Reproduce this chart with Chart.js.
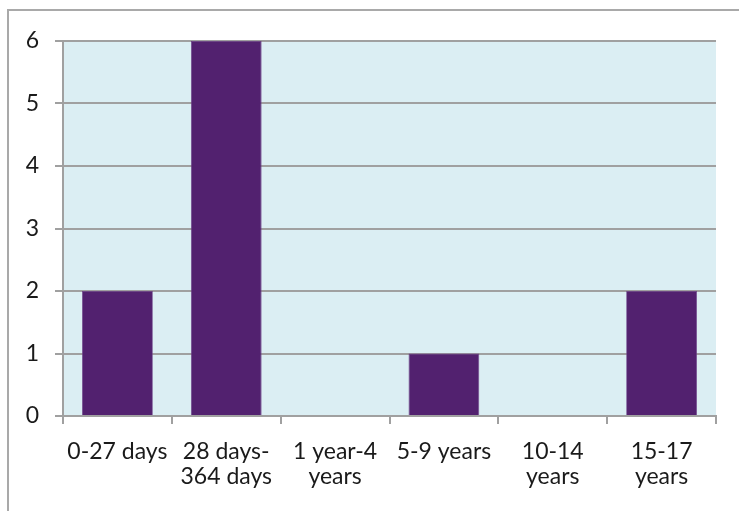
<!DOCTYPE html>
<html>
<head>
<meta charset="utf-8">
<script src="https://cdn.jsdelivr.net/npm/chart.js@4/dist/chart.umd.min.js"></script>
<style>
  html, body { margin: 0; padding: 0; background: #ffffff; }
  #wrap { position: relative; width: 739px; height: 511px; overflow: hidden; }
  #frame { position: absolute; left: 7px; top: 9px; width: 760px; height: 540px;
           border-top: 2px solid #a9a9a9; border-left: 2px solid #a9a9a9; box-sizing: border-box; }
  #c { position: absolute; left: 0; top: 0; }
</style>
</head>
<body>
<div id="wrap">
  <div id="frame"></div>
  <canvas id="c" width="739" height="511"></canvas>
</div>
<script>
// Age groups and number of cases in each group
const categories = ["0-27 days", "28 days-364 days", "1 year-4 years", "5-9 years", "10-14 years", "15-17 years"];
const tickLabels = [["0-27 days"], ["28 days-", "364 days"], ["1 year-4", "years"], ["5-9 years"], ["10-14", "years"], ["15-17", "years"]];
const counts = [2, 6, 0, 1, 0, 2];
const yTicks = [0, 1, 2, 3, 4, 5, 6];

const FONT = "Lato, 'Open Sans', sans-serif";
const TEXT = "#1a1a1a";
const GRID = "#a0a0a0";

// Fill the plotting area with a pale blue panel
const plotBackground = {
  id: "plotBackground",
  beforeDraw(chart) {
    const { ctx, chartArea: a } = chart;
    ctx.save();
    ctx.fillStyle = "#dbeef3";
    ctx.fillRect(a.left, a.top, a.right - a.left, a.bottom - a.top);
    ctx.restore();
  }
};

new Chart(document.getElementById("c"), {
  type: "bar",
  data: {
    labels: categories,
    datasets: [{
      data: counts,
      backgroundColor: "#52216f",
      borderColor: "#6a3c86",
      borderWidth: 0.8,
      barPercentage: 0.65,
      categoryPercentage: 1.0
    }]
  },
  options: {
    responsive: false,
    animation: false,
    devicePixelRatio: 1,
    layout: { padding: { left: 0, top: 41, right: 23, bottom: 0 } },
    plugins: { legend: { display: false }, tooltip: { enabled: false } },
    scales: {
      x: {
        offset: true,
        grid: { display: true, drawOnChartArea: false, drawTicks: true, offset: true,
                tickLength: 8, color: GRID, lineWidth: 2 },
        border: { display: true, color: GRID, width: 2 },
        ticks: {
          color: TEXT, font: { family: FONT, size: 23, lineHeight: 1.09 }, padding: 15,
          maxRotation: 0, autoSkip: false,
          callback: (v, i) => tickLabels[i]
        },
        afterFit(scale) { scale.height = 95; }
      },
      y: {
        min: 0, max: 6,
        grid: { color: GRID, lineWidth: 2, tickLength: 8 },
        border: { display: true, color: GRID, width: 2 },
        afterBuildTicks(scale) { scale.ticks = yTicks.map(v => ({ value: v })); },
        ticks: { color: TEXT, font: { family: FONT, size: 23 }, padding: 16 },
        afterFit(scale) { scale.width = 63; }
      }
    }
  },
  plugins: [plotBackground]
});
</script>
</body>
</html>
